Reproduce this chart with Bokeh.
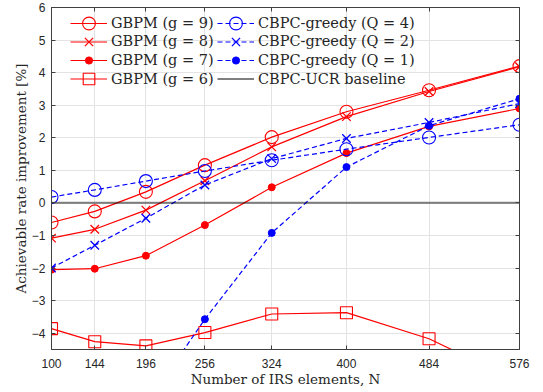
import numpy as np
from bokeh.plotting import figure
from bokeh.models import FixedTicker, LinearAxis, Range1d, Legend, LegendItem, CustomLabelingPolicy
from bokeh.embed import file_html
from bokeh.resources import INLINE

# ---- data ----
N = [100, 144, 196, 256, 324, 400, 484, 576]
x_ticks = [100, 144, 196, 256, 324, 400, 484, 576]
y_ticks = [-4, -3, -2, -1, 0, 1, 2, 3, 4, 5, 6]

gbpm_g9 = [-0.60, -0.26, 0.34, 1.16, 2.02, 2.80, 3.46, 4.20]
gbpm_g8 = [-1.08, -0.81, -0.22, 0.68, 1.72, 2.65, 3.42, 4.18]
gbpm_g7 = [-2.05, -2.02, -1.62, -0.68, 0.48, 1.53, 2.35, 2.90]
gbpm_g6 = [-3.86, -4.26, -4.39, -3.98, -3.41, -3.37, -4.17, -5.50]
cbpc_q4 = [0.18, 0.40, 0.67, 0.98, 1.31, 1.65, 2.01, 2.40]
cbpc_q2 = [-2.00, -1.30, -0.47, 0.55, 1.36, 1.98, 2.47, 3.05]
cbpc_q1 = [np.nan, np.nan, -6.20, -3.57, -0.92, 1.10, 2.37, 3.20]
baseline = [0, 0, 0, 0, 0, 0, 0, 0]

labels_gbpm = ["GBPM (g = 9)", "GBPM (g = 8)", "GBPM (g = 7)", "GBPM (g = 6)"]
labels_cbpc = ["CBPC-greedy (Q = 4)", "CBPC-greedy (Q = 2)", "CBPC-greedy (Q = 1)", "CBPC-UCR baseline"]

RED = "#ff0000"
BLUE = "#0000ff"
AX = "#404040"
SERIF = "DejaVu Serif"
SANS = "Liberation Sans"

W, H = 543, 392
BL, BR, BT, BB = 51, 24, 7, 43
FRAME_H = H - BT - BB

p = figure(width=W, height=H, output_backend="svg", toolbar_location=None,
           x_range=Range1d(100, 576), y_range=Range1d(-4.5, 6),
           min_border_left=BL, min_border_right=BR, min_border_top=BT, min_border_bottom=BB,
           background_fill_color="white", border_fill_color="white")

p.outline_line_color = AX
p.outline_line_width = 1

p.xgrid.ticker = FixedTicker(ticks=x_ticks)
p.ygrid.ticker = FixedTicker(ticks=y_ticks)
for g in (p.xgrid, p.ygrid):
    g.grid_line_color = "#e3e3e3"
    g.grid_line_width = 1

for ax, ticks in ((p.xaxis[0], x_ticks), (p.yaxis[0], y_ticks)):
    ax.ticker = FixedTicker(ticks=ticks)
    ax.major_tick_in = 4
    ax.major_tick_out = 0
    ax.minor_tick_in = 0
    ax.minor_tick_out = 0
    ax.axis_line_color = AX
    ax.major_tick_line_color = AX
    ax.major_label_text_font = SANS
    ax.major_label_text_font_size = "12px"
    ax.major_label_text_color = "#262626"
    ax.axis_label_text_font = SERIF
    ax.axis_label_text_font_size = "13.5px"
    ax.axis_label_text_font_style = "normal"
    ax.axis_label_text_color = "#262626"

p.xaxis[0].axis_label = "Number of IRS elements, N"
p.xaxis[0].major_label_standoff = 9
p.xaxis[0].axis_label_standoff = 0
p.yaxis[0].axis_label = "Achievable rate improvement [%]"
p.yaxis[0].major_label_standoff = 6
p.yaxis[0].axis_label_standoff = 0

hide_all = CustomLabelingPolicy(code="for (const i of indices) { indices.unset(i) } return indices")
for loc, ticks in (("right", y_ticks), ("above", x_ticks)):
    a = LinearAxis(ticker=FixedTicker(ticks=ticks), major_tick_in=4, major_tick_out=0,
                   minor_tick_in=0, minor_tick_out=0, axis_line_color=AX,
                   major_tick_line_color=AX, major_label_text_font_size="1px",
                   major_label_standoff=0, major_label_policy=hide_all)
    p.add_layout(a, loc)

LW = 1.2
DASH = "5 3"
r = {}
r["g9"] = [p.line(N, gbpm_g9, color=RED, line_width=LW),
           p.scatter(N, gbpm_g9, marker="circle", size=13, line_color=RED, fill_color=None, line_width=1.1)]
r["g8"] = [p.line(N, gbpm_g8, color=RED, line_width=LW),
           p.scatter(N, gbpm_g8, marker="x", size=12, line_color=RED, line_width=1.3)]
r["g7"] = [p.line(N, gbpm_g7, color=RED, line_width=LW),
           p.scatter(N, gbpm_g7, marker="circle", size=7, line_color=RED, fill_color=RED)]
r["g6"] = [p.line(N, gbpm_g6, color=RED, line_width=LW),
           p.scatter(N, gbpm_g6, marker="square", size=12, line_color=RED, fill_color=None, line_width=1.1)]
r["q4"] = [p.line(N, cbpc_q4, color=BLUE, line_width=LW, line_dash=DASH),
           p.scatter(N, cbpc_q4, marker="circle", size=13, line_color=BLUE, fill_color=None, line_width=1.1)]
r["q2"] = [p.line(N, cbpc_q2, color=BLUE, line_width=LW, line_dash=DASH),
           p.scatter(N, cbpc_q2, marker="x", size=12, line_color=BLUE, line_width=1.3)]
r["q1"] = [p.line(N, cbpc_q1, color=BLUE, line_width=LW, line_dash=DASH),
           p.scatter(N, cbpc_q1, marker="circle", size=7, line_color=BLUE, fill_color=BLUE)]
p.line(N, baseline, color="black", line_alpha=0.45, line_width=2.2)
# legend key for the baseline (thin black line); its points are not drawn in the plot
r["base"] = [p.line(N, [np.nan] * len(N), color="black", line_width=1)]

rows = [
    (("g9", "q4"), 0, 16.0, 32),
    (("g8", "q2"), 1, 34.4, 29),
    (("g7", "q1"), 2, 52.7, 18),
    (("g6", "base"), 3, 71.7, 29),
]
for keys, idx, c, h in rows:
    items = [LegendItem(label=lab, renderers=r[k])
             for k, lab in zip(keys, (labels_gbpm[idx], labels_cbpc[idx]))]
    lg = Legend(items=items, orientation="horizontal",
                location=(19, FRAME_H - c - h / 2.0),
                padding=0, margin=0, spacing=0,
                glyph_width=37, glyph_height=h, label_height=h, label_width=106,
                label_standoff=4, label_text_font=SERIF, label_text_font_size="14.5px",
                label_text_color="#262626", background_fill_alpha=0, border_line_alpha=0)
    p.add_layout(lg, "center")

open("out.html", "w").write(file_html(p, INLINE))
